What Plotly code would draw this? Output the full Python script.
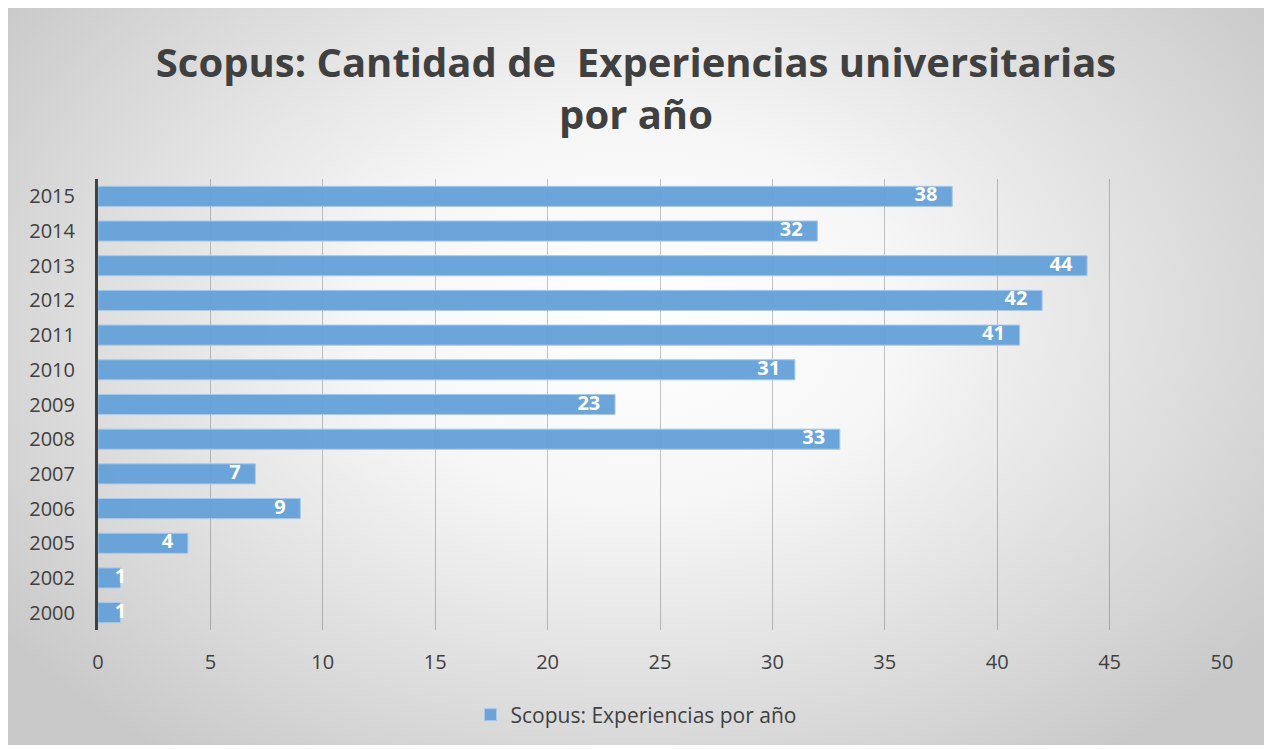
import base64
import plotly.graph_objects as go

years = ["2000", "2002", "2005", "2006", "2007", "2008", "2009", "2010", "2011", "2012", "2013", "2014", "2015"]
values = [1, 1, 4, 9, 7, 33, 23, 31, 41, 42, 44, 32, 38]
x_ticks = [0, 5, 10, 15, 20, 25, 30, 35, 40, 45, 50]
series_name = "Scopus: Experiencias por año"
title_text = "Scopus: Cantidad de  Experiencias universitarias<br>por año"

W, H = 1256, 737
ML, MR, MT, MB = 90, 42, 171, 115
pw, ph = W - ML - MR, H - MT - MB
FONT = "Open Sans, Lato, sans-serif"

svg = (
    '<svg xmlns="http://www.w3.org/2000/svg" width="1256" height="737" viewBox="0 0 1256 737" preserveAspectRatio="none">'
    '<defs><radialGradient id="g" cx="0.5" cy="0.42" r="0.62" fx="0.5" fy="0.42" gradientTransform="translate(0.5,0.42) scale(1,1.2) translate(-0.5,-0.42)">'
    '<stop offset="0" stop-color="#ffffff"/><stop offset="0.35" stop-color="#f6f6f6"/>'
    '<stop offset="1" stop-color="#c9c9c9"/></radialGradient></defs>'
    '<rect x="0" y="0" width="1256" height="737" fill="url(#g)"/></svg>'
)
src = "data:image/svg+xml;base64," + base64.b64encode(svg.encode()).decode()

fig = go.Figure()
fig.add_trace(go.Bar(
    x=values, y=years, orientation="h", name=series_name,
    marker=dict(color="rgba(100,160,216,0.95)", line=dict(color="#a9c9ea", width=1)),
    width=0.58, hoverinfo="x+y",
))
fig.add_trace(go.Scatter(
    x=values, y=years, mode="markers+text", showlegend=False,
    text=[str(v) for v in values],
    textposition=["middle left" if v >= 3 else "middle center" for v in values],
    textfont=dict(family=FONT, size=20, color="white", weight="bold"),
    marker=dict(size=22, color="rgba(0,0,0,0)"),
    cliponaxis=False, hoverinfo="skip",
))

fig.update_layout(
    width=W, height=H,
    margin=dict(l=ML, r=MR, t=MT, b=MB, autoexpand=False),
    paper_bgcolor="#d0d0d0", plot_bgcolor="rgba(0,0,0,0)",
    title=dict(text=title_text, x=0.5, xref="container", xanchor="center",
               y=1 - 69 / H, yref="container", yanchor="middle",
               font=dict(family=FONT, size=40, color="#404040", weight="bold")),
    font=dict(family=FONT, color="#404040"),
    showlegend=True,
    legend=dict(orientation="h", x=0.5, xref="container", xanchor="center",
                y=1 - 707 / H, yref="container", yanchor="middle",
                font=dict(size=21, color="#404040"), bgcolor="rgba(0,0,0,0)"),
    images=[dict(source=src, xref="paper", yref="paper",
                 x=-ML / pw, y=1 + MT / ph,
                 sizex=W / pw, sizey=H / ph,
                 xanchor="left", yanchor="top", sizing="stretch", layer="below")],
)
fig.update_xaxes(range=[0, 50], tickvals=x_ticks, showgrid=True, gridcolor="rgba(0,0,0,0.22)", gridwidth=1,
                 zeroline=False, showline=False, tickfont=dict(size=20, color="#404040"),
                 ticks="outside", ticklen=14, tickcolor="rgba(0,0,0,0)", fixedrange=True, automargin=False)
fig.update_yaxes(categoryorder="array", categoryarray=years, range=[-0.5, 12.5], showgrid=False, zeroline=False,
                 showline=True, linecolor="#404040", linewidth=3,
                 tickfont=dict(size=20, color="#404040"),
                 ticks="outside", ticklen=16, tickcolor="rgba(0,0,0,0)", fixedrange=True, automargin=False)

fig.write_html("out.html")
